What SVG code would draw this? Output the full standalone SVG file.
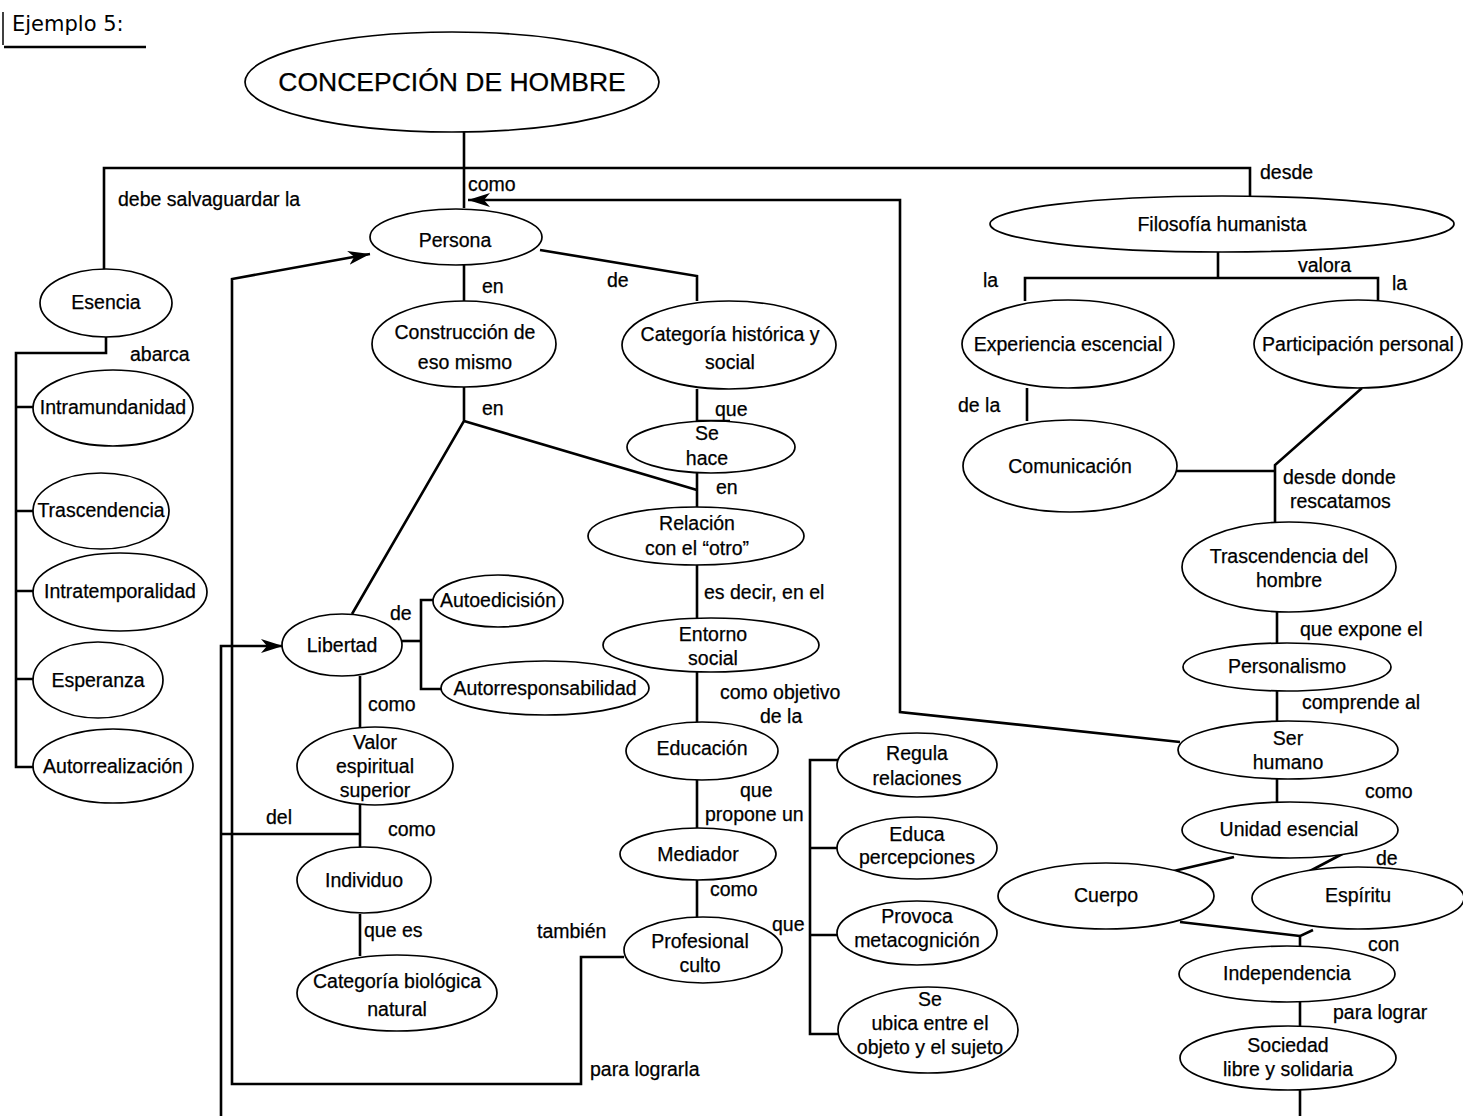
<svg xmlns="http://www.w3.org/2000/svg" width="1463" height="1116" viewBox="0 0 1463 1116">
<style>
.bg{fill:#fff}
ellipse{fill:#fff;stroke:#000;stroke-width:1.7}
text{font-family:"Liberation Sans",Arial,sans-serif;font-size:19.5px;fill:#000;stroke:#000;stroke-width:0.25}
.m{text-anchor:middle}
.c path{fill:none;stroke:#000;stroke-width:2.6;stroke-linejoin:miter}
</style>
<defs>
<marker id="ah" markerUnits="userSpaceOnUse" markerWidth="24" markerHeight="14" refX="22" refY="7" orient="auto">
<path d="M0 0 L22 7 L0 14 L6 7 Z" fill="#000"/>
</marker>
</defs>
<rect class="bg" width="1463" height="1116"/>
<g id="heading">
<text x="12" y="31" style="font-family:'DejaVu Sans',sans-serif;font-size:21px;stroke-width:0">Ejemplo 5:</text>
<path d="M3 12 V45" stroke="#000" stroke-width="1.5"/>
<path d="M4 47 H146" stroke="#000" stroke-width="2.5"/>
</g>
<g class="c" id="connectors">
<path d="M464 130 V208"/>
<path d="M104 270 V168 H1250 V197"/>
<path d="M1180 742 L900 712 V200 H468" marker-end="url(#ah)"/>
<path d="M464 264 V301"/>
<path d="M540 250 L697 276 V301"/>
<path d="M464 387 V421 L352 614"/>
<path d="M464 421 L697 490"/>
<path d="M697 389 V421 H730"/>
<path d="M697 472 V508"/>
<path d="M697 565 V618"/>
<path d="M697 672 V722"/>
<path d="M697 780 V828"/>
<path d="M697 880 V918"/>
<path d="M624 957 H581 V1084 H232 V279 L370 254" marker-end="url(#ah)"/>
<path d="M221 1116 V646 H283" marker-end="url(#ah)"/>
<path d="M221 834 H360"/>
<path d="M360 676 V733"/>
<path d="M360 805 V848"/>
<path d="M360 914 V956"/>
<path d="M402 641 H421"/>
<path d="M435 600 H421 V689 H442"/>
<path d="M106 336 V353 H16 V767 H35"/>
<path d="M16 407 H34 M16 511 H34 M16 591 H34 M16 679 H34"/>
<path d="M838 760 H810 V1034 H840"/>
<path d="M810 848 H838 M810 935 H838"/>
<path d="M1218 252 V278"/>
<path d="M1025 301 V278 H1378 V301"/>
<path d="M1027 388 V421"/>
<path d="M1177 471 H1275"/>
<path d="M1362 388 L1275 465 V522"/>
<path d="M1277 611 V645"/>
<path d="M1277 690 V722"/>
<path d="M1277 779 V803"/>
<path d="M1234 857 L1165 873"/>
<path d="M1348 851 L1308 872"/>
<path d="M1180 922 L1300 936"/>
<path d="M1313 930 L1300 936 V947"/>
<path d="M1300 1001 V1027"/>
<path d="M1300 1089 V1116"/>
</g>
<g id="labels">
<text x="118" y="206">debe salvaguardar la</text>
<text x="468" y="191">como</text>
<text x="1260" y="179">desde</text>
<text x="482" y="293">en</text>
<text x="607" y="287">de</text>
<text x="482" y="415">en</text>
<text x="715" y="416">que</text>
<text x="716" y="494">en</text>
<text x="704" y="599">es decir, en el</text>
<text x="720" y="699">como objetivo</text>
<text x="760" y="723">de la</text>
<text x="740" y="797">que</text>
<text x="705" y="821">propone un</text>
<text x="710" y="896">como</text>
<text x="772" y="931">que</text>
<text x="537" y="938">también</text>
<text x="590" y="1076">para lograrla</text>
<text x="130" y="361">abarca</text>
<text x="390" y="620">de</text>
<text x="368" y="711">como</text>
<text x="266" y="824">del</text>
<text x="388" y="836">como</text>
<text x="364" y="937">que es</text>
<text x="983" y="287">la</text>
<text x="1298" y="272">valora</text>
<text x="1392" y="290">la</text>
<text x="958" y="412">de la</text>
<text x="1283" y="484">desde donde</text>
<text x="1290" y="508">rescatamos</text>
<text x="1300" y="636">que expone el</text>
<text x="1302" y="709">comprende al</text>
<text x="1365" y="798">como</text>
<text x="1376" y="865">de</text>
<text x="1368" y="951">con</text>
<text x="1333" y="1019">para lograr</text>
</g>
<g id="n-concepcion"><ellipse cx="452" cy="82" rx="207" ry="50"/><text class="m" x="452" y="91" style="font-size:26.5px">CONCEPCIÓN DE HOMBRE</text></g>
<g id="n-persona"><ellipse cx="456" cy="237" rx="86" ry="28"/><text class="m" x="455" y="247">Persona</text></g>
<g id="n-construccion"><ellipse cx="464" cy="344" rx="92" ry="43"/><text class="m" x="465" y="339">Construcción de</text><text class="m" x="465" y="369">eso mismo</text></g>
<g id="n-categoria-hist"><ellipse cx="729" cy="345" rx="107" ry="44"/><text class="m" x="730" y="341">Categoría histórica y</text><text class="m" x="730" y="369">social</text></g>
<g id="n-se-hace"><ellipse cx="711" cy="447" rx="84" ry="26"/><text class="m" x="707" y="440">Se</text><text class="m" x="707" y="465">hace</text></g>
<g id="n-relacion"><ellipse cx="696" cy="536" rx="108" ry="29"/><text class="m" x="697" y="530">Relación</text><text class="m" x="697" y="555">con el “otro”</text></g>
<g id="n-entorno"><ellipse cx="711" cy="645" rx="108" ry="27"/><text class="m" x="713" y="641">Entorno</text><text class="m" x="713" y="665">social</text></g>
<g id="n-educacion"><ellipse cx="702" cy="751" rx="76" ry="29"/><text class="m" x="702" y="755">Educación</text></g>
<g id="n-mediador"><ellipse cx="698" cy="854" rx="78" ry="26"/><text class="m" x="698" y="861">Mediador</text></g>
<g id="n-profesional"><ellipse cx="703" cy="950" rx="79" ry="33"/><text class="m" x="700" y="948">Profesional</text><text class="m" x="700" y="972">culto</text></g>
<g id="n-regula"><ellipse cx="917" cy="765" rx="80" ry="32"/><text class="m" x="917" y="760">Regula</text><text class="m" x="917" y="785">relaciones</text></g>
<g id="n-educa"><ellipse cx="917" cy="848" rx="80" ry="31"/><text class="m" x="917" y="841">Educa</text><text class="m" x="917" y="864">percepciones</text></g>
<g id="n-provoca"><ellipse cx="917" cy="933" rx="80" ry="32"/><text class="m" x="917" y="923">Provoca</text><text class="m" x="917" y="947">metacognición</text></g>
<g id="n-ubica"><ellipse cx="928" cy="1030" rx="90" ry="43"/><text class="m" x="930" y="1006">Se</text><text class="m" x="930" y="1030">ubica entre el</text><text class="m" x="930" y="1054">objeto y el sujeto</text></g>
<g id="n-esencia"><ellipse cx="106" cy="303" rx="66" ry="34"/><text class="m" x="106" y="309">Esencia</text></g>
<g id="n-intramundanidad"><ellipse cx="113" cy="408" rx="80" ry="38"/><text class="m" x="113" y="414">Intramundanidad</text></g>
<g id="n-trascendencia"><ellipse cx="101" cy="511" rx="68" ry="38"/><text class="m" x="101" y="517">Trascendencia</text></g>
<g id="n-intratemporalidad"><ellipse cx="120" cy="592" rx="87" ry="39"/><text class="m" x="120" y="598">Intratemporalidad</text></g>
<g id="n-esperanza"><ellipse cx="98" cy="680" rx="65" ry="38"/><text class="m" x="98" y="687">Esperanza</text></g>
<g id="n-autorrealizacion"><ellipse cx="113" cy="766" rx="80" ry="37"/><text class="m" x="113" y="773">Autorrealización</text></g>
<g id="n-libertad"><ellipse cx="342" cy="645" rx="60" ry="31"/><text class="m" x="342" y="652">Libertad</text></g>
<g id="n-autoedicision"><ellipse cx="498" cy="601" rx="65" ry="26"/><text class="m" x="498" y="607">Autoedicisión</text></g>
<g id="n-autorresponsabilidad"><ellipse cx="545" cy="688" rx="104" ry="27"/><text class="m" x="545" y="695">Autorresponsabilidad</text></g>
<g id="n-valor"><ellipse cx="375" cy="766" rx="78" ry="39"/><text class="m" x="375" y="749">Valor</text><text class="m" x="375" y="773">espiritual</text><text class="m" x="375" y="797">superior</text></g>
<g id="n-individuo"><ellipse cx="364" cy="880" rx="67" ry="33"/><text class="m" x="364" y="887">Individuo</text></g>
<g id="n-categoria-bio"><ellipse cx="397" cy="993" rx="100" ry="38"/><text class="m" x="397" y="988">Categoría biológica</text><text class="m" x="397" y="1016">natural</text></g>
<g id="n-filosofia"><ellipse cx="1222" cy="224" rx="232" ry="28"/><text class="m" x="1222" y="231">Filosofía humanista</text></g>
<g id="n-experiencia"><ellipse cx="1068" cy="344" rx="106" ry="44"/><text class="m" x="1068" y="351">Experiencia escencial</text></g>
<g id="n-participacion"><ellipse cx="1358" cy="344" rx="104" ry="44"/><text class="m" x="1358" y="351">Participación personal</text></g>
<g id="n-comunicacion"><ellipse cx="1070" cy="466" rx="107" ry="46"/><text class="m" x="1070" y="473">Comunicación</text></g>
<g id="n-trascendencia-hombre"><ellipse cx="1289" cy="567" rx="107" ry="45"/><text class="m" x="1289" y="563">Trascendencia del</text><text class="m" x="1289" y="587">hombre</text></g>
<g id="n-personalismo"><ellipse cx="1287" cy="667" rx="104" ry="24"/><text class="m" x="1287" y="673">Personalismo</text></g>
<g id="n-ser-humano"><ellipse cx="1288" cy="750" rx="110" ry="29"/><text class="m" x="1288" y="745">Ser</text><text class="m" x="1288" y="769">humano</text></g>
<g id="n-unidad"><ellipse cx="1290" cy="830" rx="108" ry="28"/><text class="m" x="1289" y="836">Unidad esencial</text></g>
<g id="n-cuerpo"><ellipse cx="1106" cy="896" rx="108" ry="33"/><text class="m" x="1106" y="902">Cuerpo</text></g>
<g id="n-espiritu"><ellipse cx="1358" cy="898" rx="106" ry="31"/><text class="m" x="1358" y="902">Espíritu</text></g>
<g id="n-independencia"><ellipse cx="1287" cy="974" rx="108" ry="28"/><text class="m" x="1287" y="980">Independencia</text></g>
<g id="n-sociedad"><ellipse cx="1288" cy="1058" rx="108" ry="32"/><text class="m" x="1288" y="1052">Sociedad</text><text class="m" x="1288" y="1076">libre y solidaria</text></g>
</svg>
